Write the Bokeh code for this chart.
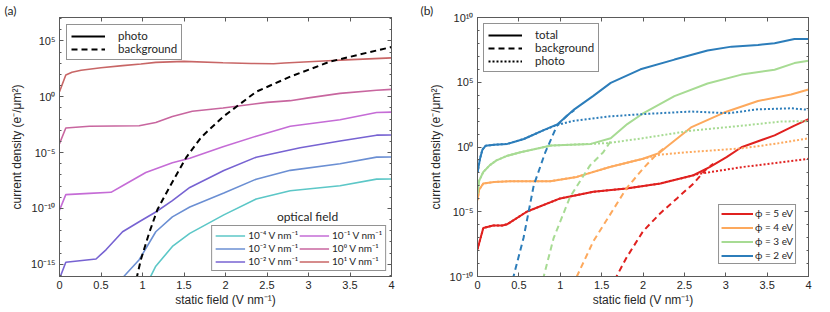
import numpy as np
from bokeh.plotting import figure
from bokeh.layouts import row
from bokeh.models import (Range1d, FixedTicker, CustomJSTickFormatter, LinearAxis,
                          LogAxis, Legend, LegendItem, Label, Title)
from bokeh.embed import file_html
from bokeh.resources import INLINE

# ---------------- data: panel (a) (values stored as log10 of current density) -------------
x_ticks = [0, 0.5, 1, 1.5, 2, 2.5, 3, 3.5, 4]

a_bg_x = [0.90, 0.94, 0.98, 1.08, 1.18, 1.34, 1.53, 1.71, 1.97, 2.37, 2.78, 3.26, 3.72, 4.0]
a_bg_log = [-17.2, -15.9, -14.6, -12.2, -10.1, -7.9, -5.4, -3.6, -1.8, 0.45, 1.8, 3.15, 3.97, 4.45]

a_e1_x = [0, 0.076, 0.15, 0.26, 0.5, 0.76, 0.98, 1.16, 1.5, 1.97, 2.31, 2.58, 2.71, 3.18, 3.52, 4.0]
a_e1_log = [0.45, 1.95, 2.2, 2.38, 2.6, 2.79, 2.94, 3.08, 3.17, 3.04, 2.98, 2.96, 3.02, 3.2, 3.33, 3.48]

a_e0_x = [0, 0.076, 0.36, 0.96, 1.16, 1.36, 1.6, 1.97, 2.5, 2.78, 3.0, 3.38, 3.82, 4.0]
a_e0_log = [-4.2, -2.8, -2.64, -2.6, -2.3, -1.76, -1.3, -1.0, -0.5, -0.35, -0.1, 0.3, 0.59, 0.66]

a_em1_x = [0, 0.076, 0.36, 0.62, 0.76, 1.04, 1.36, 1.57, 1.97, 2.37, 2.78, 3.38, 3.82, 4.0]
a_em1_log = [-10.15, -8.77, -8.65, -8.56, -7.97, -6.79, -5.91, -5.5, -4.47, -3.53, -2.64, -2.06, -1.41, -1.38]

a_em2_x = [0, 0.076, 0.44, 0.56, 0.76, 0.96, 1.16, 1.36, 1.57, 1.98, 2.37, 2.9, 3.38, 3.82, 4.0]
a_em2_log = [-16.3, -14.83, -14.53, -13.71, -12.09, -11.2, -10.32, -9.3, -8.12, -6.6, -5.41, -4.56, -3.97, -3.44, -3.42]

a_em3_x = [0.74, 0.78, 0.96, 1.16, 1.36, 1.57, 1.98, 2.37, 2.78, 3.38, 3.82, 4.0]
a_em3_log = [-16.8, -16.06, -14.6, -12.09, -10.76, -9.88, -8.63, -7.38, -6.59, -6.0, -5.41, -5.4]

a_em4_x = [1.06, 1.1, 1.16, 1.36, 1.57, 1.98, 2.37, 2.78, 3.38, 3.82, 4.0]
a_em4_log = [-16.8, -16.06, -15.18, -13.41, -12.24, -10.58, -9.15, -8.42, -7.97, -7.38, -7.36]

a_labels = ["10⁻⁴ V nm⁻¹", "10⁻³ V nm⁻¹", "10⁻² V nm⁻¹",
            "10⁻¹ V nm⁻¹", "10⁰ V nm⁻¹", "10¹ V nm⁻¹"]
a_colors = ["#5cc7c7", "#6b8fd3", "#7763d2", "#c56cd6", "#c8669f", "#c86666"]

# ---------------- data: panel (b) ----------------
b2_tot_x = [0, 0.03, 0.06, 0.1, 0.2, 0.36, 0.56, 0.8, 0.97, 1.17, 1.4, 1.61, 1.97, 2.38, 2.78, 3.07, 3.39, 3.59, 3.83, 4.0]
b2_tot_log = [-2.0, -0.9, -0.2, 0.1, 0.17, 0.24, 0.62, 1.3, 1.77, 2.91, 3.95, 4.95, 6.0, 6.75, 7.45, 7.75, 7.88, 8.01, 8.34, 8.34]
b2_bg_x = [0.41, 0.435, 0.556, 0.68, 0.82, 0.96, 1.08, 1.17]
b2_bg_log = [-11.0, -10.0, -7.03, -2.95, -0.4, 1.64, 2.41, 2.85]
b2_ph_x = [0, 0.03, 0.06, 0.1, 0.2, 0.36, 0.56, 0.8, 0.97, 1.17, 1.57, 1.97, 2.58, 3.03, 3.39, 3.79, 4.0]
b2_ph_log = [-2.0, -0.9, -0.2, 0.1, 0.17, 0.24, 0.62, 1.3, 1.72, 2.03, 2.35, 2.53, 2.74, 2.61, 2.91, 2.99, 2.87]

b3_tot_x = [0, 0.02, 0.07, 0.15, 0.23, 0.35, 0.52, 0.89, 1.37, 1.61, 1.81, 1.99, 2.38, 2.78, 3.19, 3.59, 3.83, 4.0]
b3_tot_log = [-3.6, -2.6, -1.93, -1.4, -1.03, -0.7, -0.4, 0.11, 0.24, 0.67, 1.77, 2.55, 3.93, 4.9, 5.59, 5.97, 6.48, 6.66]
b3_bg_x = [0.78, 0.8, 0.92, 1.12, 1.36, 1.52, 1.62]
b3_bg_log = [-11.0, -10.0, -7.03, -3.84, -1.42, -0.4, 0.55]
b3_ph_x = [0, 0.02, 0.07, 0.15, 0.23, 0.35, 0.52, 0.89, 1.37, 1.57, 1.97, 2.58, 3.19, 3.67, 4.0]
b3_ph_log = [-3.6, -2.6, -1.93, -1.4, -1.03, -0.7, -0.4, 0.11, 0.24, 0.3, 0.65, 1.26, 1.64, 1.97, 2.0]

b4_tot_x = [0, 0.02, 0.07, 0.2, 0.4, 0.88, 1.2, 1.6, 2.0, 2.2, 2.28, 2.58, 2.98, 3.39, 3.79, 4.0]
b4_tot_log = [-4.1, -3.3, -2.82, -2.7, -2.64, -2.64, -2.31, -1.54, -0.91, -0.45, -0.02, 1.51, 2.66, 3.55, 4.06, 4.44]
b4_bg_x = [1.18, 1.2, 1.4, 1.6, 1.8, 2.0, 2.17, 2.25]
b4_bg_log = [-10.8, -10.0, -7.28, -5.24, -3.2, -1.67, -0.53, -0.1]
b4_ph_x = [0, 0.02, 0.07, 0.2, 0.4, 0.88, 1.2, 1.6, 2.0, 2.2, 2.5, 3.2, 3.6, 4.0]
b4_ph_log = [-4.1, -3.3, -2.82, -2.7, -2.64, -2.64, -2.31, -1.54, -0.91, -0.6, -0.42, -0.1, 0.25, 0.67]

b5_tot_x = [0, 0.07, 0.19, 0.3, 0.36, 0.6, 1.0, 1.4, 1.8, 2.21, 2.61, 2.81, 3.01, 3.19, 3.59, 3.83, 4.0]
b5_tot_log = [-7.9, -6.26, -6.06, -6.06, -5.96, -4.98, -3.97, -3.46, -3.2, -2.82, -2.18, -1.54, -0.78, -0.02, 0.9, 1.65, 2.15]
b5_bg_x = [1.66, 1.68, 1.8, 2.0, 2.21, 2.41, 2.61, 2.77, 2.85]
b5_bg_log = [-10.3, -10.0, -8.55, -6.51, -5.11, -3.97, -2.82, -1.67, -1.3]
b5_ph_x = [0, 0.07, 0.19, 0.3, 0.36, 0.6, 1.0, 1.4, 1.8, 2.21, 2.61, 2.69, 3.21, 4.0]
b5_ph_log = [-7.9, -6.26, -6.06, -6.06, -5.96, -4.98, -3.97, -3.46, -3.2, -2.82, -2.18, -2.06, -1.54, -0.91]

b_labels = ["ϕ = 5 eV", "ϕ = 4 eV", "ϕ = 3 eV", "ϕ = 2 eV"]
b_colors = ["#e0211f", "#fda95d", "#a7db93", "#2c7dba"]

# ---------------- styling ----------------
AX = "#5a5a5a"
TXT = "#262626"
SANS = "Liberation Sans"
LEGF = "Lato"
DOT = "2 2"
DASH = "6 4"
FIG_H = 311

sup_js = """
const e = Math.round(Math.log10(tick));
const s = {'-':'\u207b','0':'\u2070','1':'\u00b9','2':'\u00b2','3':'\u00b3','4':'\u2074',
           '5':'\u2075','6':'\u2076','7':'\u2077','8':'\u2078','9':'\u2079'};
return '10' + String(e).split('').map(c => s[c]).join('');
"""


def make_fig(width, ylo, yhi, major_exp, minor_exp, bl, br, panel_tag, tag_offset):
    p = figure(width=width, height=FIG_H, output_backend="svg", toolbar_location=None,
               x_range=Range1d(0, 4), y_range=Range1d(10.0 ** ylo, 10.0 ** yhi),
               y_axis_type="log", min_border_left=bl, min_border_right=br,
               min_border_top=13, min_border_bottom=35)
    p.grid.visible = False
    p.outline_line_color = AX
    p.background_fill_color = "white"
    major = [10.0 ** e for e in major_exp]
    minor = [10.0 ** e for e in minor_exp]

    xa = p.xaxis[0]
    xa.ticker = FixedTicker(ticks=x_ticks)
    xa.formatter = CustomJSTickFormatter(code="return tick.toString();")
    xa.axis_label = "static field (V nm⁻¹)"
    ya = p.yaxis[0]
    ya.ticker = FixedTicker(ticks=major, minor_ticks=minor)
    ya.formatter = CustomJSTickFormatter(code=sup_js)
    ya.axis_label = "current density (e⁻/μm²)"

    top = LinearAxis(ticker=FixedTicker(ticks=x_ticks),
                     formatter=CustomJSTickFormatter(code="return '';"))
    right = LogAxis(ticker=FixedTicker(ticks=major, minor_ticks=minor),
                    formatter=CustomJSTickFormatter(code="return '';"))
    p.add_layout(top, "above")
    p.add_layout(right, "right")

    for ax in (xa, ya, top, right):
        ax.axis_line_color = AX
        ax.major_tick_line_color = AX
        ax.minor_tick_line_color = AX
        ax.major_tick_in = 4
        ax.major_tick_out = 0
        ax.minor_tick_in = 2
        ax.minor_tick_out = 0
        ax.major_label_text_font = SANS
        ax.major_label_text_font_size = "11px"
        ax.major_label_text_color = TXT
        ax.axis_label_text_font = SANS
        ax.axis_label_text_font_size = "12px"
        ax.axis_label_text_font_style = "normal"
        ax.axis_label_text_color = TXT
    for ax in (xa, top):
        ax.minor_tick_line_color = None
    xa.major_label_standoff = 4
    xa.axis_label_standoff = 1
    ya.major_label_standoff = 4
    ya.axis_label_standoff = 4
    for ax in (top, right):
        ax.major_label_standoff = 0
        ax.major_label_text_font_size = "0px"

    tag = Title(text=panel_tag, align="left", offset=tag_offset, standoff=0,
                text_font=LEGF, text_font_size="12px", text_font_style="normal",
                text_color=TXT)
    p.add_layout(tag, "above")
    return p


def lg(vals):
    return 10.0 ** np.array(vals, dtype=float)


def style_legend(l, fs, gw, lh, sp, pad, so):
    l.label_text_font = LEGF
    l.label_text_font_size = fs
    l.label_text_color = TXT
    l.border_line_color = TXT
    l.border_line_width = 1
    l.background_fill_color = "white"
    l.background_fill_alpha = 1
    l.glyph_width = gw
    l.glyph_height = lh
    l.label_height = lh
    l.spacing = sp
    l.padding = pad
    l.label_standoff = so


# ---------------- panel (a) ----------------
pa = make_fig(408, -16.1, 7.1, [-15, -10, -5, 0, 5], list(range(-16, 8)), 59, 17, "(a)", -55)

series_a = [(a_em4_x, a_em4_log), (a_em3_x, a_em3_log), (a_em2_x, a_em2_log),
            (a_em1_x, a_em1_log), (a_e0_x, a_e0_log), (a_e1_x, a_e1_log)]
rend_a = []
for (xs, ys), c in zip(series_a, a_colors):
    rend_a.append(pa.line(xs, lg(ys), line_color=c, line_width=1.6))
pa.line(a_bg_x, lg(a_bg_log), line_color="black", line_width=2, line_dash=DASH)

# legend-only keys (no visible data)
dummy_photo = pa.line([np.nan], [np.nan], line_color="black", line_width=2)
dummy_bg = pa.line([np.nan], [np.nan], line_color="black", line_width=2, line_dash=DASH)

leg_a1 = Legend(items=[LegendItem(label="photo", renderers=[dummy_photo]),
                       LegendItem(label="background", renderers=[dummy_bg])],
                location="top_left", margin=7)
style_legend(leg_a1, "11.5px", 34, 12, 0, 4, 13)
pa.add_layout(leg_a1)

leg_a2 = Legend(items=[LegendItem(label=t, renderers=[r]) for t, r in zip(a_labels, rend_a)],
                location="bottom_right", margin=5, ncols=2)
style_legend(leg_a2, "10px", 30, 11, 1, 3, 3)
pa.add_layout(leg_a2)

pa.add_layout(Label(x=248, y=60, x_units="screen", y_units="screen", text="optical field",
                    text_font=LEGF, text_font_size="12px", text_color=TXT,
                    text_align="center", text_baseline="middle"))

# ---------------- panel (b) ----------------
pb = make_fig(422, -10, 10, [-10, -5, 0, 5, 10], list(range(-10, 11)), 69, 22, "(b)", -57)

series_b = [(b5_tot_x, b5_tot_log, b5_bg_x, b5_bg_log, b5_ph_x, b5_ph_log),
            (b4_tot_x, b4_tot_log, b4_bg_x, b4_bg_log, b4_ph_x, b4_ph_log),
            (b3_tot_x, b3_tot_log, b3_bg_x, b3_bg_log, b3_ph_x, b3_ph_log),
            (b2_tot_x, b2_tot_log, b2_bg_x, b2_bg_log, b2_ph_x, b2_ph_log)]
rend_b = []
for (tx, ty, bx, by, phx, phy), c in zip(series_b, b_colors):
    pb.line(phx, lg(phy), line_color=c, line_width=2, line_dash=DOT)
    pb.line(bx, lg(by), line_color=c, line_width=2, line_dash=DASH)
    rend_b.append(pb.line(tx, lg(ty), line_color=c, line_width=2))

d_tot = pb.line([np.nan], [np.nan], line_color="black", line_width=2)
d_bg = pb.line([np.nan], [np.nan], line_color="black", line_width=2, line_dash=DASH)
d_ph = pb.line([np.nan], [np.nan], line_color="black", line_width=2, line_dash=DOT)
leg_b1 = Legend(items=[LegendItem(label="total", renderers=[d_tot]),
                       LegendItem(label="background", renderers=[d_bg]),
                       LegendItem(label="photo", renderers=[d_ph])],
                location="top_left", margin=6)
style_legend(leg_b1, "11.5px", 34, 12, 0, 4, 13)
pb.add_layout(leg_b1)

leg_b2 = Legend(items=[LegendItem(label=t, renderers=[r]) for t, r in zip(b_labels, rend_b)],
                location="bottom_right", margin=12)
style_legend(leg_b2, "10px", 32, 11, 2, 2, 2)
pb.add_layout(leg_b2)

layout = row(pa, pb)
open("out.html", "w").write(file_html(layout, INLINE))
